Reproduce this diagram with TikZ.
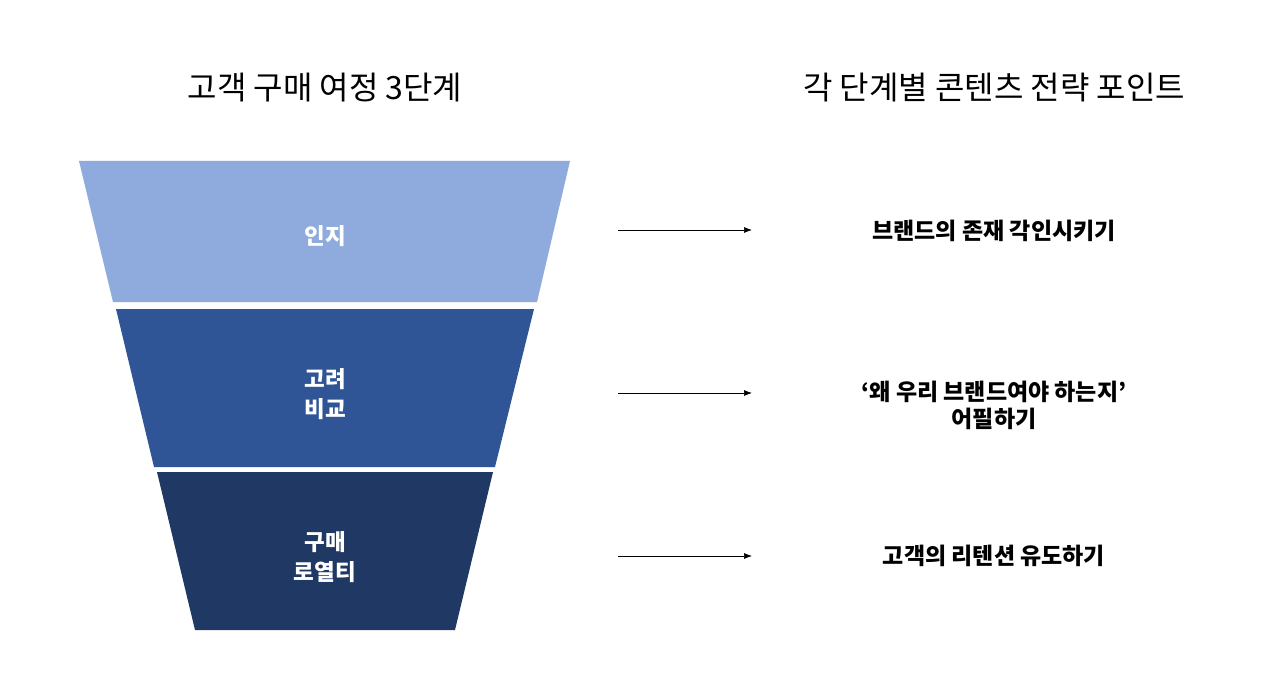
\documentclass[tikz,border=0pt]{standalone}
\usepackage{fontspec}
\setmainfont{Noto Sans CJK KR}
\usetikzlibrary{positioning,arrows.meta}
\definecolor{aware}{HTML}{8FAADC}
\definecolor{consider}{HTML}{2F5597}
\definecolor{loyal}{HTML}{203864}

\begin{document}
\begin{tikzpicture}[x=1pt,y=-1pt,
	stage/.style={text=white,font=\fontsize{22.5}{30}\selectfont\bfseries,align=center},
	point/.style={font=\fontsize{23}{27}\selectfont\bfseries,align=center},
	heading/.style={font=\fontsize{32}{38}\selectfont},
	link/.style={-{Latex[length=8pt,width=6pt]},line width=0.7pt}]
		\useasboundingbox[fill=white] (0,0) rectangle (1280,695);
		% funnel
		\fill[aware] (79,161) -- (570,161) -- (537,302) -- (113,302) -- cycle;
		\fill[consider] (116,309) -- (534,309) -- (495,467) -- (154,467) -- cycle;
		\fill[loyal] (157,472) -- (493,472) -- (455,630) -- (195,630) -- cycle;
		\node[stage] (s1) at (325,236) {인지};
		\node[stage] (s2) at (325,394) {고려\\비교};
		\node[stage] (s3) at (325,557) {구매\\로열티};
		% headings
		\node[heading] (h1) at (325,88) {고객 구매 여정 3단계};
		\node[heading] (h2) at (994,88) {각 단계별 콘텐츠 전략 포인트};
		% points
		\node[point] (p1) at (994,231) {브랜드의 존재 각인시키기};
		\node[point] (p2) at (994,405) {‘왜 우리 브랜드여야 하는지’\\어필하기};
		\node[point] (p3) at (994,556) {고객의 리텐션 유도하기};
		\coordinate (a1) at (618,230);
		\coordinate (b1) at (752,230);
		\coordinate (a2) at (618,393);
		\coordinate (b2) at (752,393);
		\coordinate (a3) at (618,556);
		\coordinate (b3) at (752,556);
		\draw[link] (a1) -- (b1);
		\draw[link] (a2) -- (b2);
		\draw[link] (a3) -- (b3);
	\end{tikzpicture}
\end{document}
